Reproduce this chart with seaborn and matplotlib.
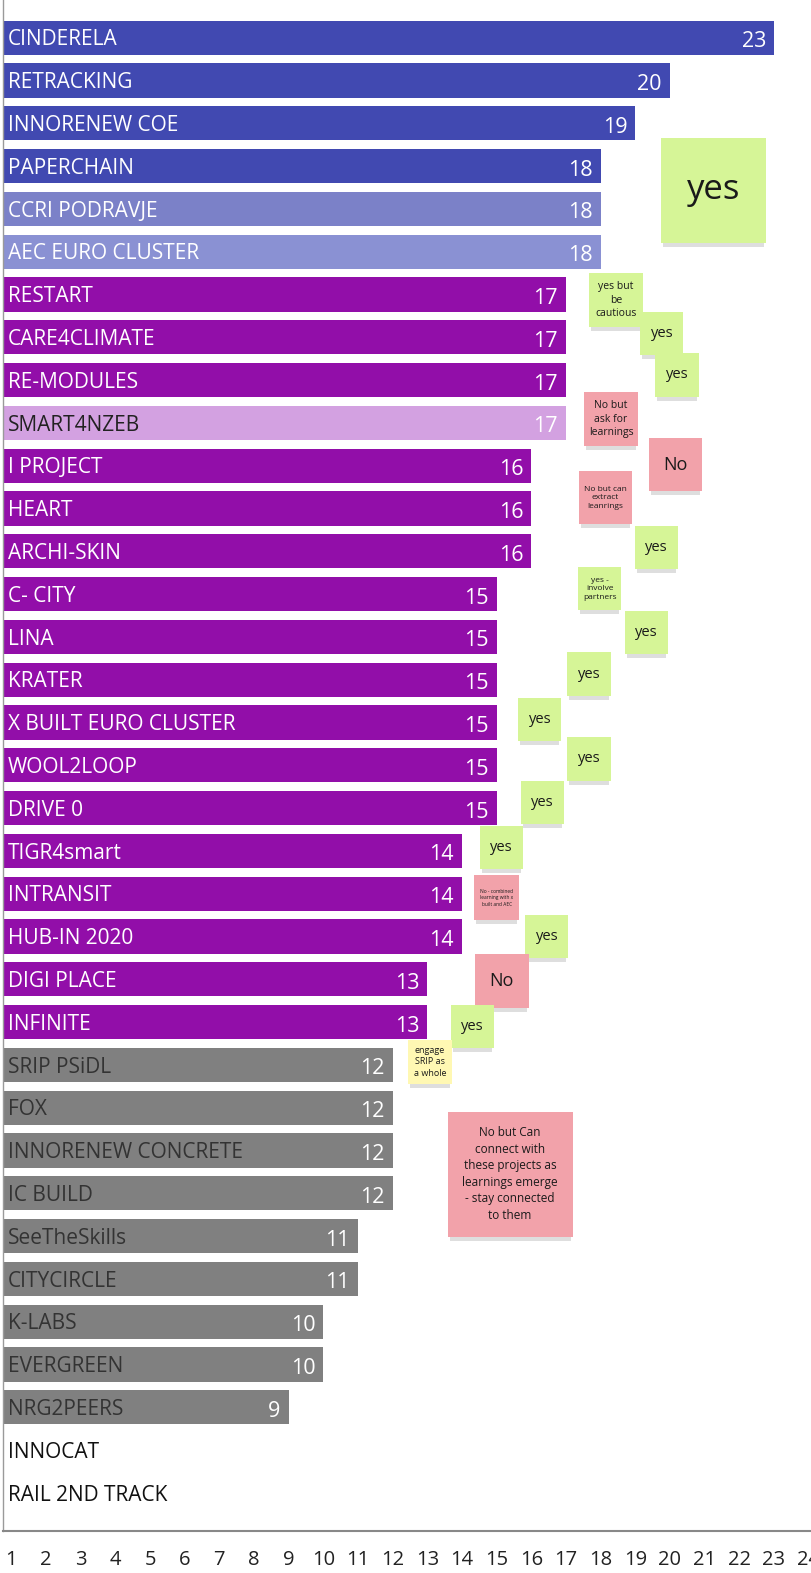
import numpy as np
import matplotlib.pyplot as plt
import matplotlib.patches as mpatches
import pandas as pd
import seaborn as sns

projects = ['CINDERELA', 'RETRACKING', 'INNORENEW COE', 'PAPERCHAIN', 'CCRI PODRAVJE',
            'AEC EURO CLUSTER', 'RESTART', 'CARE4CLIMATE', 'RE-MODULES', 'SMART4NZEB',
            'I PROJECT', 'HEART', 'ARCHI-SKIN', 'C- CITY', 'LINA', 'KRATER',
            'X BUILT EURO CLUSTER', 'WOOL2LOOP', 'DRIVE 0', 'TIGR4smart', 'INTRANSIT',
            'HUB-IN 2020', 'DIGI PLACE', 'INFINITE', 'SRIP PSiDL', 'FOX',
            'INNORENEW CONCRETE', 'IC BUILD', 'SeeTheSkills', 'CITYCIRCLE', 'K-LABS',
            'EVERGREEN', 'NRG2PEERS', 'INNOCAT', 'RAIL 2ND TRACK']
scores = [23, 20, 19, 18, 18, 18, 17, 17, 17, 17, 16, 16, 16, 15, 15, 15, 15, 15, 15,
          14, 14, 14, 13, 13, 12, 12, 12, 12, 11, 11, 10, 10, 9, None, None]
ticks = list(range(1, 25))

# colours per row
bar_colors = (['#4149b1'] * 4 + ['#7b81c8', '#8a91d3'] + ['#920ea9'] * 3 + ['#d3a1e1']
              + ['#920ea9'] * 14 + ['#808080'] * 9 + ['#ffffff'] * 2)
label_colors = (['white'] * 9 + ['#222222'] + ['white'] * 14 + ['#333333'] * 9
                + ['#111111'] * 2)

GREEN, PINK, YELLOW = '#d6f597', '#f2a2aa', '#fff8b3'
# sticky notes: text, x centre, row centre, size (px), font size, colour
notes = [
    ('yes', 21.27, 3.56, 105, 25, GREEN),
    ('yes but\nbe\ncautious', 18.44, 6.13, 54, 7.5, GREEN),
    ('yes', 19.77, 6.90, 43, 10.5, GREEN),
    ('yes', 20.20, 7.88, 44, 10.5, GREEN),
    ('No but\nask for\nlearnings', 18.30, 8.91, 54, 7.5, PINK),
    ('No', 20.16, 9.98, 53, 13, PINK),
    ('No but can\nextract\nleanrings', 18.13, 10.75, 53, 6, PINK),
    ('yes', 19.60, 11.90, 43, 10.5, GREEN),
    ('yes -\ninvolve\npartners', 17.98, 12.88, 43, 6, GREEN),
    ('yes', 19.33, 13.89, 43, 10.5, GREEN),
    ('yes', 17.66, 14.87, 44, 10.5, GREEN),
    ('yes', 16.25, 15.92, 43, 10.5, GREEN),
    ('yes', 17.66, 16.85, 44, 10.5, GREEN),
    ('yes', 16.31, 17.88, 43, 10.5, GREEN),
    ('yes', 15.13, 18.93, 43, 10.5, GREEN),
    ('No - combined\nlearning with x\nbuilt and AEC', 15.01, 20.10, 45, 3.5, PINK),
    ('yes', 16.45, 21.01, 43, 10.5, GREEN),
    ('No', 15.15, 22.04, 54, 13, PINK),
    ('yes', 14.29, 23.11, 43, 10.5, GREEN),
    ('engage\nSRIP as\na whole', 13.08, 23.93, 44, 6.5, YELLOW),
    ('No but Can\nconnect with\nthese projects as\nlearnings emerge\n- stay connected\nto them',
     15.39, 26.55, 125, 8.5, PINK),
]

sns.set_theme(style='white')
plt.rcParams['font.family'] = ['Open Sans', 'DejaVu Sans']

W, H = 811, 1573
fig = plt.figure(figsize=(W / 100, H / 100), dpi=100)
ax = fig.add_axes([3 / W, 42 / H, 1 - 3 / W, 1 - 42 / H])

df = pd.DataFrame({'project': projects, 'score': scores}).dropna()
palette = dict(zip(projects, bar_colors))
sns.barplot(data=df, x='score', y='project', hue='project', order=projects,
            palette=palette, legend=False, width=0.8, saturation=1,
            linewidth=0, orient='h', ax=ax)

x0, x1 = 0.758, 24.07
ax.set_xlim(x0, x1)
ax.set_ylim(34.89, -0.881)
XPX = (W - 3) / (x1 - x0)
YPX = (H - 42) / (34.89 + 0.881)

ytrans = ax.get_yaxis_transform()
for i, (name, s) in enumerate(zip(projects, scores)):
    ax.text(5 / (W - 3), i + 0.18, name, transform=ytrans, ha='left', va='baseline',
            color=label_colors[i], fontsize=15)
    if s is not None:
        ax.text(s - 8 / XPX, i + 0.22, str(s), ha='right', va='baseline',
                color='white', fontsize=15.5)

for text, x, y, size, fs, col in notes:
    w, h = size / XPX, size / YPX
    sh = mpatches.Rectangle((x - w / 2 + 2 / XPX, y + h / 2 - 1 / YPX), w - 4 / XPX, 5 / YPX,
                            facecolor='#000000', alpha=0.13, linewidth=0, zorder=4)
    ax.add_patch(sh)
    ax.add_patch(mpatches.Rectangle((x - w / 2, y - h / 2), w, h, facecolor=col,
                                    linewidth=0, zorder=5))
    ax.text(x, y, text, ha='center', va='center', fontsize=fs, color='#1a1a1a',
            linespacing=1.35, zorder=6)

ax.set_xticks(ticks)
ax.set_yticks([])
ax.set_xlabel('')
ax.set_ylabel('')
ax.tick_params(axis='x', length=0, pad=14, labelsize=14.5, labelcolor='#222222')
for side in ['top', 'right']:
    ax.spines[side].set_visible(False)
ax.spines['left'].set_color('#9a9a9a')
ax.spines['left'].set_linewidth(1)
ax.spines['bottom'].set_color('#888888')
ax.spines['bottom'].set_linewidth(1.5)

plt.savefig('out.png', dpi=100)
